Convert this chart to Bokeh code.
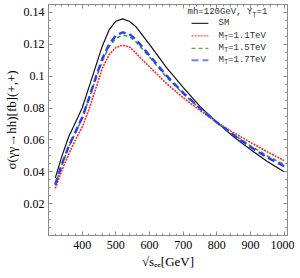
from bokeh.plotting import figure
from bokeh.models import (LinearAxis, FixedTicker, Label, Arrow, Range1d,
                          CustomLabelingPolicy)
from bokeh.embed import file_html
from bokeh.resources import INLINE

# ---- data ----
sqrt_s = [320, 340, 360, 380, 400, 420, 440, 460, 480, 500, 520, 540, 560, 580,
          600, 650, 700, 750, 800, 850, 900, 950, 1000]
sigma_sm = [0.036, 0.050, 0.062, 0.071, 0.080, 0.093, 0.106, 0.119, 0.129, 0.1345,
            0.136, 0.1345, 0.131, 0.1255, 0.120, 0.1055, 0.093, 0.081, 0.071, 0.062,
            0.054, 0.0465, 0.040]
sigma_mt11 = [0.0295, 0.041, 0.051, 0.060, 0.068, 0.079, 0.092, 0.105, 0.1135, 0.118,
              0.1194, 0.1185, 0.1145, 0.110, 0.106, 0.0955, 0.0865, 0.0785, 0.071,
              0.0645, 0.0585, 0.0525, 0.047]
sigma_mt15 = [0.0315, 0.0445, 0.0555, 0.0645, 0.0735, 0.0855, 0.098, 0.1095, 0.1185,
              0.1238, 0.1258, 0.125, 0.1215, 0.1168, 0.112, 0.0995, 0.089, 0.0798,
              0.0712, 0.0635, 0.0563, 0.050, 0.0445]
sigma_mt17 = [0.032, 0.045, 0.056, 0.065, 0.074, 0.086, 0.099, 0.111, 0.120, 0.1255,
              0.1275, 0.1265, 0.123, 0.118, 0.113, 0.1005, 0.0895, 0.080, 0.071, 0.063,
              0.0555, 0.049, 0.0435]

x_ticks = [400, 500, 600, 700, 800, 900, 1000]
x_tick_labels = ["400", "500", "600", "700", "800", "900", "1000"]
y_ticks = [0.02, 0.04, 0.06, 0.08, 0.1, 0.12, 0.14]
y_tick_labels = ["0.02", "0.04", "0.06", "0.08", "0.1", "0.12", "0.14"]

legend_title = ["mh=120GeV, Y", "T", "=1"]
series_names = ["SM", "1.1TeV", "1.5TeV", "1.7TeV"]

x_minor = [300 + 20 * i for i in range(36)]
y_minor = [0.005 * i for i in range(30)]

SERIF = "Liberation Serif"
MONO = "Liberation Mono"
FRAME = "#8c8c8c"

p = figure(frame_width=239, frame_height=231,
           x_range=Range1d(300, 1010), y_range=Range1d(0, 0.145),
           output_backend="svg", toolbar_location=None,
           min_border_left=39, min_border_right=4, min_border_top=0, min_border_bottom=0)
p.grid.visible = False
p.outline_line_color = FRAME
p.background_fill_color = "white"
p.border_fill_color = "white"

hide_all = CustomLabelingPolicy(code="""
for (const i of Array.from(indices)) indices.unset(i)
return indices
""")


def style_axis(ax, ticks, labels, minor, show_labels=True):
    ax.ticker = FixedTicker(ticks=ticks, minor_ticks=minor)
    ax.axis_line_color = FRAME
    ax.major_tick_line_color = FRAME
    ax.minor_tick_line_color = FRAME
    ax.major_tick_in = 4
    ax.major_tick_out = 0
    ax.minor_tick_in = 2
    ax.minor_tick_out = 0
    ax.major_label_text_font = SERIF
    ax.major_label_text_color = "black"
    if show_labels:
        ax.major_label_overrides = {t: l for t, l in zip(ticks, labels)}
        ax.major_label_text_font_size = "12px"
        ax.major_label_standoff = 5
    else:
        ax.major_label_policy = hide_all
        ax.major_label_text_font_size = "2px"
        ax.major_label_standoff = 0


xa = p.xaxis[0]
ya = p.yaxis[0]
style_axis(xa, x_ticks, x_tick_labels, x_minor)
style_axis(ya, y_ticks, y_tick_labels, y_minor)
xa.axis_label = "√sₑₑ[GeV]"
ya.axis_label = "σ(γγ→hh)[fb](+,+)"
for ax in (xa, ya):
    ax.axis_label_text_font = SERIF
    ax.axis_label_text_font_style = "normal"
    ax.axis_label_text_font_size = "13px"
    ax.axis_label_text_color = "black"
    ax.axis_label_standoff = 2
ya.major_label_standoff = 4

top = LinearAxis()
style_axis(top, x_ticks, x_tick_labels, x_minor, show_labels=False)
p.add_layout(top, "above")
right = LinearAxis()
style_axis(right, y_ticks, y_tick_labels, y_minor, show_labels=False)
p.add_layout(right, "right")

# ---- curves ----
styles = [
    (sigma_sm, "#111111", 1.2, "solid"),
    (sigma_mt11, "#ff2a2a", 1.6, "2 1"),
    (sigma_mt15, "#3f9a3f", 1.6, "4 3"),
    (sigma_mt17, "#2a3cff", 2.4, "7 4"),
]
for ys, col, w, dash in styles:
    p.line(sqrt_s, ys, line_color=col, line_width=w, line_dash=dash)

# ---- legend (annotations) ----
sample_colors = ["#333333", "#ff5050", "#5aa85a", "#7080ff"]
sample_widths = [1.2, 1.2, 1.2, 2.2]
sample_dashes = ["solid", "2 1", "4 3", "7 4"]
row_y = [0.1331, 0.1253, 0.1175, 0.1100]
title_y = 0.1400
cw9 = 0.6 * 9 / 0.3366   # monospace char advance in data units
cw7 = 0.6 * 7 / 0.3366
x_title = 713
x_text = 805
TXT = "#333333"

x = x_title
p.add_layout(Label(x=x, y=title_y, text=legend_title[0], text_font=MONO, text_font_size="9px",
                   text_baseline="middle", text_color=TXT))
x += len(legend_title[0]) * cw9
p.add_layout(Label(x=x, y=title_y - 0.0013, text=legend_title[1], text_font=MONO,
                   text_font_size="7px", text_baseline="middle", text_color=TXT))
x += cw7
p.add_layout(Label(x=x, y=title_y, text=legend_title[2], text_font=MONO, text_font_size="9px",
                   text_baseline="middle", text_color=TXT))

for i, name in enumerate(series_names):
    yy = row_y[i]
    p.add_layout(Arrow(end=None, x_start=725, y_start=yy, x_end=775, y_end=yy,
                       line_color=sample_colors[i], line_width=sample_widths[i],
                       line_dash=sample_dashes[i]))
    if i == 0:
        p.add_layout(Label(x=x_text, y=yy, text=name, text_font=MONO, text_font_size="9px",
                           text_baseline="middle", text_color=TXT))
    else:
        p.add_layout(Label(x=x_text, y=yy, text="M", text_font=MONO, text_font_size="9px",
                           text_baseline="middle", text_color=TXT))
        p.add_layout(Label(x=x_text + cw9, y=yy - 0.0013, text="T", text_font=MONO,
                           text_font_size="7px", text_baseline="middle", text_color=TXT))
        p.add_layout(Label(x=x_text + cw9 + cw7, y=yy, text="=" + name, text_font=MONO,
                           text_font_size="9px", text_baseline="middle", text_color=TXT))

open("out.html", "w").write(file_html(p, INLINE))
